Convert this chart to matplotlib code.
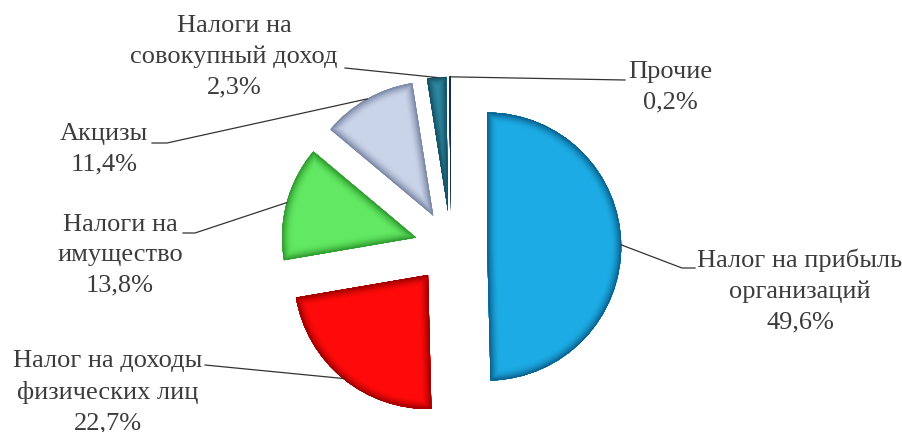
import numpy as np
import matplotlib
matplotlib.use('Agg')
import matplotlib.pyplot as plt
from matplotlib.patches import Polygon
import matplotlib.colors as mcolors

plt.rcParams['font.family'] = 'serif'
plt.rcParams['font.serif'] = ['Liberation Serif', 'Times New Roman', 'DejaVu Serif']

# ---- data ----
categories = ['Налог на прибыль\nорганизаций', 'Налог на доходы\nфизических лиц',
              'Налоги на\nимущество', 'Акцизы', 'Налоги на\nсовокупный доход', 'Прочие']
shares = [49.6, 22.7, 13.8, 11.4, 2.3, 0.2]
pct_labels = ['49,6%', '22,7%', '13,8%', '11,4%', '2,3%', '0,2%']

# ---- style ----
main_colors = ['#1CABE4', '#FF0A0A', '#62E862', '#CAD4E9', '#2E8CA6', '#1F5A78']
rim_colors = ['#0A5F8C', '#9A0000', '#2E9A2E', '#7886A4', '#154F62', '#0E2F42']

W, H = 903, 432
R_PX = 134.0
CX, CY = 451.0, 247.0


def d(px, py):
    return ((px - CX) / R_PX, (CY - py) / R_PX)


fig = plt.figure(figsize=(W / 100, H / 100), dpi=100)
ax = fig.add_axes([0, 0, 1, 1])
wedges, _ = ax.pie(shares, startangle=90, counterclock=False,
                   explode=[0.27] * len(shares), radius=1.0,
                   colors=main_colors, wedgeprops=dict(linewidth=0))
ax.set_xlim(-CX / R_PX, (W - CX) / R_PX)
ax.set_ylim((CY - H) / R_PX, CY / R_PX)
ax.set_axis_off()


def wedge_verts(w, n=200):
    t = np.radians(np.linspace(w.theta1, w.theta2, n))
    cx, cy = w.center
    pts = np.column_stack([cx + w.r * np.cos(t), cy + w.r * np.sin(t)])
    return np.vstack([[cx, cy], pts])


def mix(c1, c2, f):
    a = np.array(mcolors.to_rgb(c1))
    b = np.array(mcolors.to_rgb(c2))
    return tuple(a * (1 - f) + b * f)


# bevel shading
for w, mc, rc in zip(wedges, main_colors, rim_colors):
    verts = wedge_verts(w)
    n = 14
    for k in range(n):
        f = k / (n - 1)
        lw = 15.0 * (1 - f) + 0.8
        col = mix(mc, rc, f ** 1.8)
        p = Polygon(verts, closed=True, fill=False, edgecolor=col, lw=lw,
                    joinstyle='round')
        p.set_clip_path(w)
        ax.add_patch(p)

# labels: text centre (px) and leader path points (px), layout only
label_pos = [(800, 291), (108, 392), (120, 255), (104, 149), (234, 57), (670, 87)]
leader_pts = [
    [(682, 268), (695, 268)],
    [(205, 365)],
    [(195, 233), (183, 233)],
    [(167, 143), (152, 143)],
    [(345, 68)],
    [(625, 80)],
]

for w, cat, pct, pos, pts in zip(wedges, categories, pct_labels, label_pos, leader_pts):
    tm = np.radians((w.theta1 + w.theta2) / 2)
    ax0 = w.center[0] + w.r * np.cos(tm)
    ay0 = w.center[1] + w.r * np.sin(tm)
    xs = [ax0] + [d(*p)[0] for p in pts]
    ys = [ay0] + [d(*p)[1] for p in pts]
    ax.plot(xs, ys, color='#333333', lw=0.9, zorder=5)
    tx, ty = d(*pos)
    ax.text(tx, ty, cat + '\n' + pct, ha='center', va='center', color='#3C3C3C',
            fontsize=19, linespacing=1.5)

fig.savefig('out.png', dpi=100)
